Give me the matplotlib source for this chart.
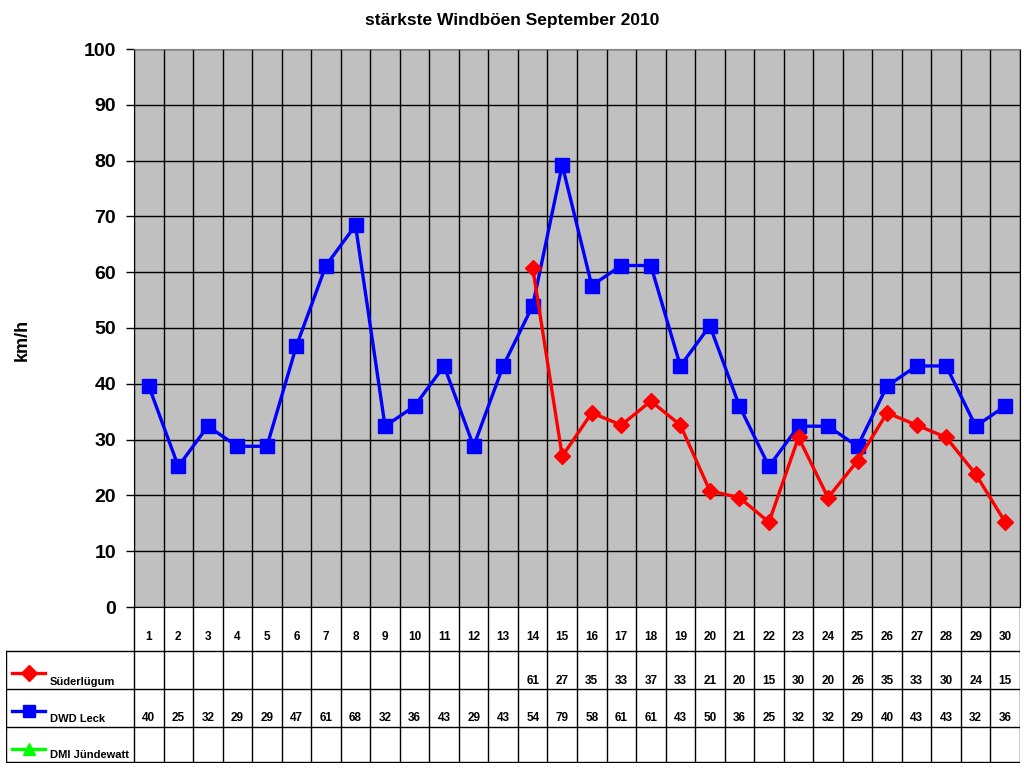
import matplotlib
matplotlib.use('Agg')
import numpy as np
import matplotlib.pyplot as plt

plt.rcParams['font.family'] = ['Liberation Sans', 'DejaVu Sans']
plt.rcParams['font.weight'] = 'bold'

days = list(range(1, 31))
dwd_leck = [39.6, 25.2, 32.4, 28.8, 28.8, 46.8, 61.2, 68.4, 32.4, 36.0,
            43.2, 28.8, 43.2, 54.0, 79.2, 57.6, 61.2, 61.2, 43.2, 50.4,
            36.0, 25.2, 32.4, 32.4, 28.8, 39.6, 43.2, 43.2, 32.4, 36.0]
suederluegum_days = list(range(14, 31))
suederluegum = [60.8, 27.0, 34.8, 32.6, 36.9, 32.6, 20.8, 19.6, 15.2, 30.4,
                19.6, 26.2, 34.8, 32.6, 30.4, 23.8, 15.2]
series_names = ['Süderlügum', 'DWD Leck', 'DMI Jündewatt']

W, H = 1024, 768
fig = plt.figure(figsize=(W / 100, H / 100), dpi=100)


def px_rect(x0, y0, x1, y1):
    return [x0 / W, 1 - y1 / H, (x1 - x0) / W, (y1 - y0) / H]


# main chart
ax = fig.add_axes(px_rect(134, 49, 1020, 607))
ax.set_facecolor('#c0c0c0')
ax.set_xlim(0.5, 30.5)
ax.set_ylim(0, 100)
ax.set_yticks(np.arange(0, 101, 10))
ax.set_xticks(np.arange(0.5, 31, 1))
ax.set_xticklabels([])
ax.tick_params(axis='x', length=0)
ax.tick_params(axis='y', direction='out', length=6, width=1, labelsize=14, pad=7)
ax.grid(True, color='black', lw=1)
ax.set_axisbelow(True)
for s in ['left', 'bottom', 'right']:
    ax.spines[s].set_color('black')
ax.spines['top'].set_color('#808080')

fig.text(22 / W, 1 - 340 / H, 'km/h', rotation=90, ha='center', va='center',
         fontsize=13, fontweight='bold')

ax.plot(days, dwd_leck, color='#0000ff', lw=2.4, marker='s', ms=10,
        clip_on=False, zorder=3)
ax.plot(suederluegum_days, suederluegum, color='#ff0000', lw=2.4, marker='D',
        ms=8, clip_on=False, zorder=4)

fig.text(512 / W, 1 - 20 / H, 'stärkste Windböen September 2010',
         ha='center', va='center', fontsize=12.5, fontweight='bold')

# data table below the chart, y in pixels
col_w = (1020 - 134) / 30
tab = fig.add_axes(px_rect(6, 607, 1020, 763))
tab.set_xlim(0.5 - (134 - 6) / col_w, 30.5)
tab.set_ylim(763, 607)
tab.axis('off')

row_lines = [651, 689, 727, 762]
left_edge = 0.5 - (134 - 6) / col_w
for y in row_lines:
    tab.plot([left_edge, 30.5], [y, y], color='black', lw=1)
tab.plot([left_edge, left_edge], [651, 762], color='black', lw=1)
for b in np.arange(0.5, 31, 1):
    tab.plot([b, b], [607, 762], color='black', lw=1)

for d in days:
    tab.text(d, 643, str(d), ha='center', va='bottom', fontsize=8.5)
for d, v in zip(suederluegum_days, suederluegum):
    tab.text(d, 687, f'{v:.0f}', ha='center', va='bottom', fontsize=8.5)
for d, v in zip(days, dwd_leck):
    tab.text(d, 724, f'{v:.0f}', ha='center', va='bottom', fontsize=8.5)

leg_colors = ['#ff0000', '#0000ff', '#00ff00']
leg_markers = ['D', 's', '^']
leg_y = [673, 711, 749]
row_bottom = [687, 724, 760]
x_line0 = left_edge + (12 - 6) / col_w
x_line1 = left_edge + (45 - 6) / col_w
x_text = left_edge + (50 - 6) / col_w
for name, c, m, y, yb in zip(series_names, leg_colors, leg_markers, leg_y, row_bottom):
    tab.plot([x_line0, x_line1], [y, y], color=c, lw=2.4)
    tab.plot([(x_line0 + x_line1) / 2], [y], color=c, marker=m, ms=9 if m != 'D' else 8)
    tab.text(x_text, yb, name, ha='left', va='bottom', fontsize=8)

fig.savefig('out.png', dpi=100)
